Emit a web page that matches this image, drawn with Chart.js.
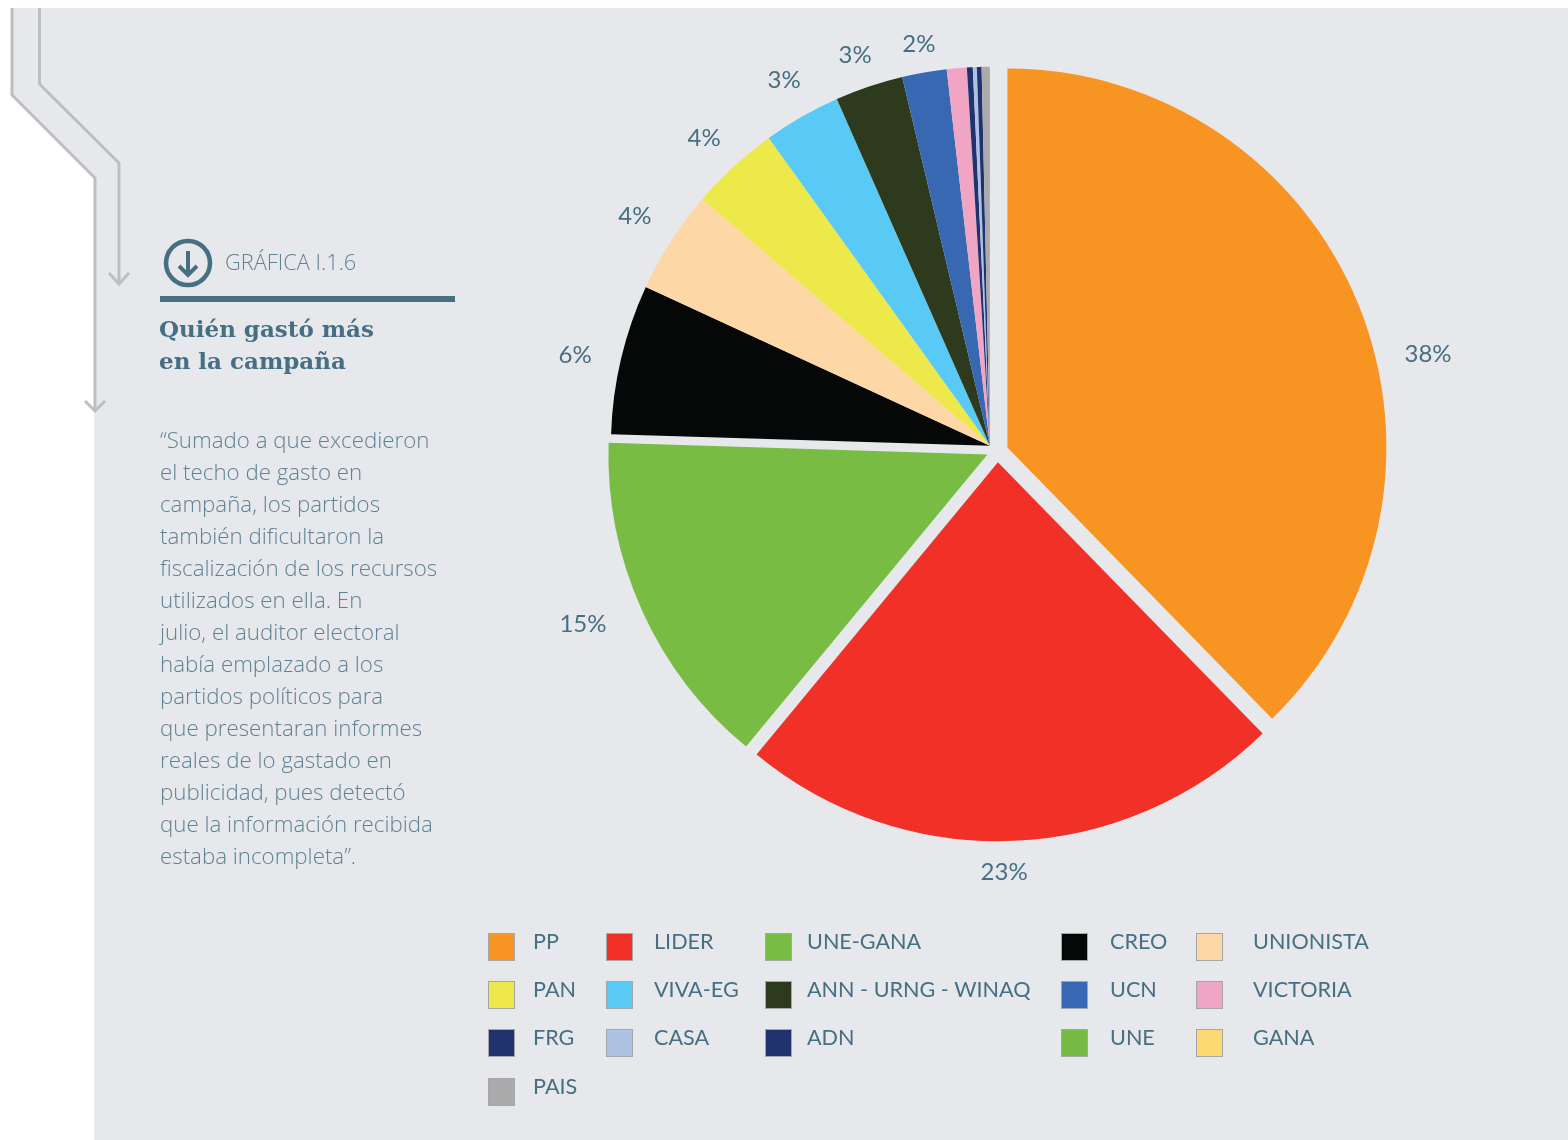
<!DOCTYPE html>
<html lang="es">
<head>
<meta charset="utf-8">
<title>Quién gastó más en la campaña</title>
<script src="https://cdn.jsdelivr.net/npm/chart.js@4/dist/chart.umd.min.js"></script>
<style>
  html, body { margin: 0; padding: 0; background: #fff; }
  #page { position: relative; width: 1568px; height: 1140px; overflow: hidden; }
  #panel { position: absolute; left: 0; top: 0; width: 1568px; height: 1140px; background: #e7e8ec;
    clip-path: polygon(12px 8px, 1568px 8px, 1568px 1140px, 94px 1140px, 94px 178px, 12px 95px); }
  #deco { position: absolute; left: 0; top: 0; }
  canvas { position: absolute; left: 0; top: 0; }
  .txt { position: absolute; color: #466f83; white-space: pre; }
  #kicker { left: 225px; top: 248px; font: 300 21.8px/28px "Open Sans", sans-serif; color: #5f8394; }
  #rule { position: absolute; left: 160px; top: 296px; width: 295px; height: 6px; background: #466f83; }
  #title { left: 159px; top: 313px; font: bold 23px/32px "DejaVu Serif", serif; }
  #quote { left: 160px; top: 424px; font: 300 22.3px/32px "Open Sans", sans-serif; color: #5f8394; }
  .sw { position: absolute; width: 25px; height: 26px; border: 1px solid #a4a6a8; box-sizing: content-box; }
  .lg { position: absolute; font: 400 21.6px/26px Lato, sans-serif; color: #466f83; white-space: pre; }
</style>
</head>
<body>
<div id="page">
  <div id="panel"></div>
  <svg id="deco" width="1568" height="1140" fill="none" stroke="#bdbec1" stroke-width="3">
    <path d="M12 8V95L95 178V411"/>
    <path d="M85 401L95 411L105 401"/>
    <path d="M39.5 8V84L119 163V284"/>
    <path d="M109 273L119 284L129 273"/>
    <g stroke="#466f83" stroke-width="4.5">
      <circle cx="188" cy="263" r="22"/>
      <path d="M188 251V274M179 266L188 275L197 266" stroke-width="4"/>
    </g>
  </svg>
  <canvas id="pie" width="1568" height="1140"></canvas>
  <div class="txt" id="kicker">GRÁFICA I.1.6</div>
  <div id="rule"></div>
  <div class="txt" id="title">Quién gastó más
en la campaña</div>
  <div class="txt" id="quote">“Sumado a que excedieron
el techo de gasto en
campaña, los partidos
también dificultaron la
fiscalización de los recursos
utilizados en ella. En
julio, el auditor electoral
había emplazado a los
partidos políticos para
que presentaran informes
reales de lo gastado en
publicidad, pues detectó
que la información recibida
estaba incompleta”.</div>
  <div id="legend"></div>
</div>
<script>
// Data
const parties = ['PP', 'LIDER', 'UNE-GANA', 'CREO', 'UNIONISTA', 'PAN', 'VIVA-EG',
  'ANN - URNG - WINAQ', 'UCN', 'VICTORIA', 'FRG', 'CASA', 'ADN', 'UNE', 'GANA', 'PAIS'];
const shares = [37.7, 23.3, 14.5, 6.4, 4.4, 3.8, 3.3, 2.9, 1.9, 0.85, 0.25, 0.17, 0.2, 0, 0, 0.35];
const colors = ['#f89522', '#f13127', '#78bc43', '#060808', '#fed7a6', '#eee94a', '#59caf5',
  '#2d3a1d', '#3768b1', '#f1a5c4', '#20336f', '#aec3e4', '#20336f', '#75ba42', '#fdd873', '#ababab'];

// Slices 3 onward are pulled out together as one wedge
const explodeGroups = [[0], [1], [2], [3, 4, 5, 6, 7, 8, 9, 10, 11, 12, 13, 14, 15]];
const explodeDeg = [67.9, 177.8, 254, 307];
const explodeBy = [10.7, 10.7, 10.5, 9.5];

// Label spots: degrees clockwise from top, and distance in pie radii
const labelAngle = [77.2, 179.1, 247.5, 283, 303.1, 317, 330.2, 340.3, 349.1];
const labelRadius = [1.165, 1.107, 1.184, 1.144, 1.142, 1.135, 1.133, 1.114, 1.098];

// Legend columns and rows
const legendSwatchX = [488, 606, 765, 1061, 1196];
const legendTextX = [533, 654, 807, 1110, 1253];
const legendRowY = [933, 981, 1029, 1078];

const explodePie = {
  id: 'explodePie',
  beforeDatasetDraw(chart, args) {
    const ctx = chart.ctx;
    const arcs = args.meta.data;
    explodeGroups.forEach((group, g) => {
      const a = (explodeDeg[g] - 90) * Math.PI / 180;
      group.forEach(i => {
        if (!shares[i]) return;
        ctx.save();
        ctx.translate(Math.cos(a) * explodeBy[g], Math.sin(a) * explodeBy[g]);
        arcs[i].draw(ctx);
        ctx.restore();
      });
    });
    return false;
  },
  afterDatasetsDraw(chart) {
    const ctx = chart.ctx;
    const arc0 = chart.getDatasetMeta(0).data[0];
    ctx.save();
    ctx.font = '400 24px Lato, sans-serif';
    ctx.fillStyle = '#466f83';
    ctx.textAlign = 'center';
    ctx.textBaseline = 'middle';
    labelAngle.forEach((deg, i) => {
      const a = (deg - 90) * Math.PI / 180;
      const d = labelRadius[i] * arc0.outerRadius;
      ctx.fillText(Math.round(shares[i]) + '%', arc0.x + Math.cos(a) * d, arc0.y + Math.sin(a) * d + 1);
    });
    ctx.restore();
  }
};

new Chart(document.getElementById('pie').getContext('2d'), {
  type: 'pie',
  data: {
    labels: parties,
    datasets: [{ data: shares, backgroundColor: colors, borderWidth: 0 }]
  },
  options: {
    responsive: false,
    animation: false,
    layout: { padding: { left: 618.5, right: 191.5, top: 72.5, bottom: 309.5 } },
    plugins: { legend: { display: false }, tooltip: { enabled: false } }
  },
  plugins: [explodePie]
});

// Legend, five columns filled row by row
const legend = document.getElementById('legend');
parties.forEach((name, i) => {
  const col = i % 5;
  const row = Math.floor(i / 5);
  const sw = document.createElement('div');
  sw.className = 'sw';
  sw.style.cssText = `left:${legendSwatchX[col]}px;top:${legendRowY[row]}px;background:${colors[i]}`;
  const tx = document.createElement('div');
  tx.className = 'lg';
  tx.textContent = name;
  tx.style.cssText = `left:${legendTextX[col]}px;top:${legendRowY[row] - 5}px`;
  legend.append(sw, tx);
});
</script>
</body>
</html>
